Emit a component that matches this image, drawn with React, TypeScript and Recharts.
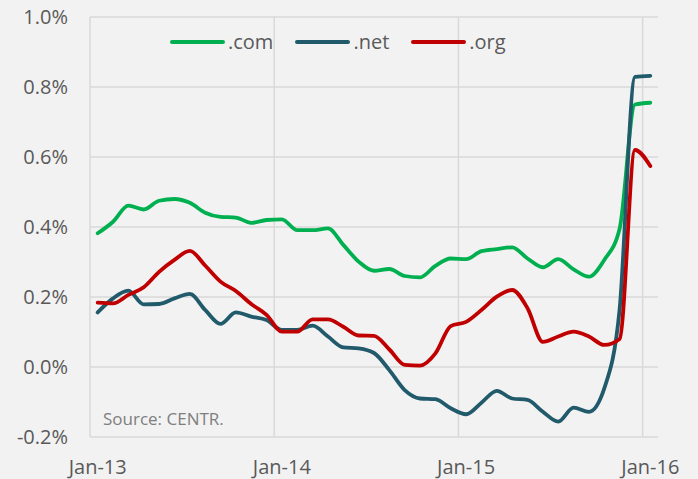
import * as React from 'react';
import { CartesianGrid, Legend, Line, LineChart, ReferenceLine, XAxis, YAxis } from 'recharts';

const months = [
  'Jan-13', 'Feb-13', 'Mar-13', 'Apr-13', 'May-13', 'Jun-13', 'Jul-13', 'Aug-13', 'Sep-13', 'Oct-13', 'Nov-13', 'Dec-13',
  'Jan-14', 'Feb-14', 'Mar-14', 'Apr-14', 'May-14', 'Jun-14', 'Jul-14', 'Aug-14', 'Sep-14', 'Oct-14', 'Nov-14', 'Dec-14',
  'Jan-15', 'Feb-15', 'Mar-15', 'Apr-15', 'May-15', 'Jun-15', 'Jul-15', 'Aug-15', 'Sep-15', 'Oct-15', 'Nov-15', 'Dec-15',
  'Jan-16',
];

// growth rate, in %
const com = [
  0.382, 0.415, 0.461, 0.45, 0.475, 0.48, 0.469, 0.441, 0.429, 0.427, 0.412, 0.42,
  0.422, 0.391, 0.391, 0.396, 0.349, 0.301, 0.275, 0.28, 0.26, 0.256, 0.289, 0.31,
  0.308, 0.331, 0.337, 0.342, 0.31, 0.285, 0.308, 0.279, 0.258, 0.306, 0.395, 0.75,
  0.755,
];
const net = [
  0.156, 0.196, 0.218, 0.179, 0.18, 0.196, 0.209, 0.163, 0.123, 0.156, 0.144, 0.134,
  0.106, 0.106, 0.118, 0.087, 0.056, 0.053, 0.04, -0.009, -0.066, -0.09, -0.092, -0.118,
  -0.135, -0.102, -0.068, -0.09, -0.094, -0.128, -0.156, -0.116, -0.128, -0.061, 0.165, 0.829,
  0.832,
];
const org = [
  0.184, 0.182, 0.206, 0.228, 0.272, 0.306, 0.332, 0.29, 0.244, 0.217, 0.18, 0.149,
  0.101, 0.101, 0.136, 0.136, 0.115, 0.09, 0.089, 0.05, 0.006, 0.004, 0.039, 0.117,
  0.129, 0.163, 0.201, 0.22, 0.168, 0.072, 0.087, 0.101, 0.087, 0.063, 0.08, 0.62,
  0.574,
];

const xTicks = [0, 12, 24, 36];
const yTicks = [-0.2, 0, 0.2, 0.4, 0.6, 0.8, 1.0];
const yearEdges = [-0.5, 11.5, 23.5, 35.5];

const series = [
  { key: 'com', name: '.com', color: '#00b050' },
  { key: 'net', name: '.net', color: '#215a6b' },
  { key: 'org', name: '.org', color: '#c00000' },
];

const data = months.map((m, i) => ({ idx: i, month: m, com: com[i], net: net[i], org: org[i] }));

const font = '"Open Sans", Calibri, sans-serif';
const textColor = '#595959';
const grid = '#d9d9d9';

function LegendRow() {
  return (
    <div style={{ display: 'flex', alignItems: 'center', fontFamily: font, fontSize: 20, color: textColor }}>
      {series.map((s) => (
        <div key={s.key} style={{ display: 'flex', alignItems: 'center', marginRight: 22 }}>
          <svg width={55} height={8}>
            <line x1={2} y1={4} x2={53} y2={4} stroke={s.color} strokeWidth={4} strokeLinecap="round" />
          </svg>
          <span style={{ marginLeft: 3, lineHeight: '24px' }}>{s.name}</span>
        </div>
      ))}
    </div>
  );
}

export default function App() {
  return (
    <div style={{ position: 'absolute', left: 0, top: 0, width: 698, height: 479, background: '#f2f2f2' }}>
      <LineChart width={698} height={479} data={data} margin={{ top: 17, right: 40, bottom: 0, left: 0 }}>
        <CartesianGrid vertical={false} stroke={grid} strokeWidth={1.5} />
        {yearEdges.map((e) => (
          <ReferenceLine key={e} x={e} stroke={grid} strokeWidth={1.5} />
        ))}
        <XAxis
          dataKey="idx"
          type="number"
          domain={[-0.5, 36.5]}
          ticks={xTicks}
          tickFormatter={(i: number) => months[i]}
          axisLine={false}
          tickLine={false}
          tickMargin={17}
          height={42}
          tick={{ fontSize: 20, fill: textColor, fontFamily: font }}
        />
        <YAxis
          type="number"
          domain={[-0.2, 1.0]}
          ticks={yTicks}
          tickFormatter={(v: number) => `${v.toFixed(1)}%`}
          axisLine={false}
          tickLine={false}
          tickMargin={16}
          width={90}
          tick={{ fontSize: 20, fill: textColor, fontFamily: font }}
        />
        <Legend
          layout="horizontal"
          verticalAlign="middle"
          align="center"
          content={() => <LegendRow />}
          wrapperStyle={{ top: 30, left: 170, width: 'auto' }}
        />
        {series.map((s) => (
          <Line
            key={s.key}
            type="monotone"
            dataKey={s.key}
            name={s.name}
            stroke={s.color}
            strokeWidth={3.8}
            strokeLinecap="round"
            dot={false}
            activeDot={false}
            isAnimationActive={false}
          />
        ))}
      </LineChart>
      <svg width={698} height={479} style={{ position: 'absolute', left: 0, top: 0, pointerEvents: 'none' }}>
        <text x={103} y={425} fontFamily={font} fontSize={17} fill="#7f7f7f">
          Source: CENTR.
        </text>
      </svg>
    </div>
  );
}
